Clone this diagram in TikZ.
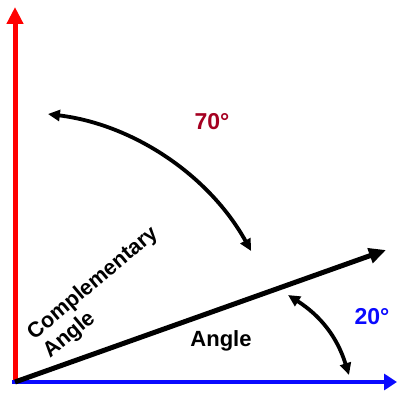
\documentclass[tikz,border=0pt]{standalone}
\usepackage{fontspec}
\setmainfont{Liberation Sans}
\usepackage{xcolor}
\usetikzlibrary{arrows.meta,calc}

\definecolor{degred}{RGB}{165,0,33}
\definecolor{axisblue}{RGB}{10,10,255}

\begin{document}
\begin{tikzpicture}[
    x=1pt, y=1pt,
    font=\bfseries,
    yaxis/.style  ={draw=red, line width=5pt, -{Triangle[length=17pt,width=16pt]}},
    xaxis/.style  ={draw=axisblue, line width=4.5pt, -{Triangle[length=13pt,width=16pt]}},
    ray/.style    ={draw=black, line width=5pt, -{Triangle[length=17pt,width=15pt]}},
    arcline/.style={draw=black, line width=3.8pt,
                    {Triangle[length=12pt,width=11pt]}-{Triangle[length=12pt,width=11pt]}},
    deg/.style    ={font=\fontsize{23}{26}\selectfont\bfseries},
    lbl/.style    ={font=\fontsize{21.5}{24.5}\selectfont\bfseries, align=left, inner sep=0pt}
]
\useasboundingbox (0,0) rectangle (398,393);

% --- Origin and the ends of the axes and of the ray. ---
\coordinate (O)    at (15,11);
\coordinate (ytip) at (15,386);
\coordinate (xtip) at (397,11);
\coordinate (rtip) at (386,143);

% --- Ends of the two angle arcs. ---
\coordinate (a70s) at ($(O)+(83:270)$);
\coordinate (b20s) at (288,98);
\coordinate (b20e) at (349,18);

% --- Labels. ---
\node[deg, text=degred]   (t70)  at (212,271) {70°};
\node[deg, text=axisblue] (t20)  at (372,76)  {20°};
\node[lbl, font=\fontsize{22}{24}\selectfont\bfseries] (ang) at (221,52) {Angle};
\node[lbl, rotate=40]     (comp) at (101,100) {Complementary\\Angle};

% --- Axes and the 20 degree ray. ---
\draw[yaxis] (O) -- (ytip);
\draw[xaxis] ([xshift=-3pt]O) -- (xtip);
\draw[ray]   (O) -- (rtip);

% --- Arcs with arrows at both ends. ---
\draw[arcline] (a70s) arc[start angle=83, end angle=29, radius=270];
\draw[arcline] (b20s) to[bend left=20] (b20e);

\end{tikzpicture}
\end{document}
